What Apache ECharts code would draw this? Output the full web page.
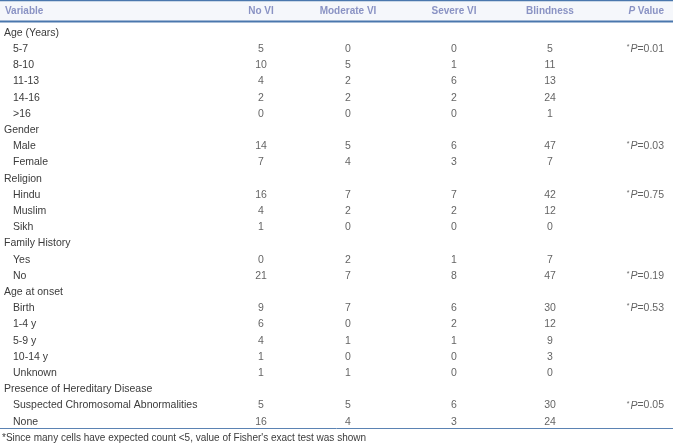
<!DOCTYPE html>
<html>
<head>
<meta charset="utf-8">
<script src="https://cdn.jsdelivr.net/npm/echarts@6/dist/echarts.min.js"></script>
<style>
html, body { margin: 0; padding: 0; background: #fff; }
#main { width: 673px; height: 446px; }
</style>
</head>
<body>
<div id="main"></div>
<script>
// row labels, level 0 = group heading, 1 = sub row
const rowLabels = [
    'Age (Years)', '5-7', '8-10', '11-13', '14-16', '>16',
    'Gender', 'Male', 'Female',
    'Religion', 'Hindu', 'Muslim', 'Sikh',
    'Family History', 'Yes', 'No',
    'Age at onset', 'Birth', '1-4 y', '5-9 y', '10-14 y', 'Unknown',
    'Presence of Hereditary Disease', 'Suspected Chromosomal Abnormalities', 'None'
];
const rowLevel = [0,1,1,1,1,1, 0,1,1, 0,1,1,1, 0,1,1, 0,1,1,1,1,1, 0,1,1];

const noVI       = [null,5,10,4,2,0, null,14,7, null,16,4,1, null,0,21, null,9,6,4,1,1, null,5,16];
const moderateVI = [null,0,5,2,2,0, null,5,4,  null,7,2,0,  null,2,7,  null,7,0,1,0,1, null,5,4];
const severeVI   = [null,0,1,6,2,0, null,6,3,  null,7,2,0,  null,1,8,  null,6,2,1,0,0, null,6,3];
const blindness  = [null,5,11,13,24,1, null,47,7, null,42,12,0, null,7,47, null,30,12,9,3,0, null,30,24];
const pValues    = [null,'0.01',null,null,null,null, null,'0.03',null, null,'0.75',null,null,
                    null,null,'0.19', null,'0.53',null,null,null,null, null,'0.05',null];

const headers = ['Variable', 'No VI', 'Moderate VI', 'Severe VI', 'Blindness', 'P Value'];
const footnote = "*Since many cells have expected count <5, value of Fisher's exact test was shown";

const bodyFont = 'Liberation Sans, Arial, Helvetica, sans-serif';
const bodyColor = '#3b3b3b';
const headColor = '#8a93c4';
const lineColor = '#4a77ad';

// column centres on the x value axis (0..673 = page width)
const colX = [261, 348, 454, 550];
const pX = 664;

function columnSeries(values, x) {
    return {
        type: 'scatter',
        symbolSize: 0,
        silent: true,
        data: values.map((v, i) => v === null ? null : [x, i, v]),
        label: {
            show: true,
            position: 'inside',
            formatter: p => String(p.value[2]),
            color: bodyColor,
            fontSize: 10.5,
            fontFamily: bodyFont
        }
    };
}

const chart = echarts.init(document.getElementById('main'), null, { renderer: 'canvas' });

const series = [noVI, moderateVI, severeVI, blindness].map((vals, k) => columnSeries(vals, colX[k]));
series.push({
    type: 'scatter',
    symbolSize: 0,
    silent: true,
    data: pValues.map((v, i) => v === null ? null : [pX, i, v]),
    label: {
        show: true,
        position: 'inside',
        align: 'right',
        formatter: p => '{s|*}{i|P}{n|=' + p.value[2] + '}',
        rich: {
            s: { fontSize: 7, color: bodyColor, fontFamily: bodyFont, verticalAlign: 'top', padding: [0, 1, 3, 0] },
            i: { fontSize: 10.5, color: bodyColor, fontFamily: bodyFont, fontStyle: 'italic' },
            n: { fontSize: 10.5, color: bodyColor, fontFamily: bodyFont }
        }
    }
});

const headerGraphics = headers.map((h, k) => {
    let x, align;
    if (k === 0) { x = 5; align = 'left'; }
    else if (k === 5) { x = pX; align = 'right'; }
    else { x = colX[k - 1]; align = 'center'; }
    if (k === 5) {
        return {
            type: 'text', x: x, y: 11,
            style: {
                text: '{i|P}{n| Value}',
                align: align, verticalAlign: 'middle',
                rich: {
                    i: { fontSize: 10, fontWeight: 'bold', fontStyle: 'italic', fill: headColor, fontFamily: bodyFont },
                    n: { fontSize: 10, fontWeight: 'bold', fill: headColor, fontFamily: bodyFont }
                }
            }
        };
    }
    return {
        type: 'text', x: x, y: 11,
        style: {
            text: h, align: align, verticalAlign: 'middle',
            fontSize: 10, fontWeight: 'bold', fill: headColor, fontFamily: bodyFont
        }
    };
});

chart.setOption({
    animation: false,
    grid: { left: 0, right: 0, top: 24.9, bottom: 16.1, containLabel: false },
    xAxis: {
        type: 'value', min: 0, max: 673,
        show: false
    },
    yAxis: {
        type: 'category',
        inverse: true,
        data: rowLabels,
        axisLine: { show: false },
        axisTick: { show: false },
        splitLine: { show: false },
        axisLabel: {
            inside: true,
            margin: 4,
            align: 'left',
            formatter: (val, idx) => rowLevel[idx] === 0 ? '{g|' + val + '}' : '{s|' + val + '}',
            rich: {
                g: { fontSize: 10.5, color: bodyColor, fontFamily: bodyFont },
                s: { fontSize: 10.5, color: bodyColor, fontFamily: bodyFont, padding: [0, 0, 0, 9] }
            }
        }
    },
    series: series,
    graphic: [
        { type: 'rect', shape: { x: 0, y: 0, width: 673, height: 21 }, style: { fill: '#f5f7fb' }, z: -10 },
        { type: 'line', shape: { x1: 0, y1: 0.5, x2: 673, y2: 0.5 }, style: { stroke: lineColor, lineWidth: 1.5 } },
        { type: 'line', shape: { x1: 0, y1: 21.5, x2: 673, y2: 21.5 }, style: { stroke: lineColor, lineWidth: 2 } },
        { type: 'line', shape: { x1: 0, y1: 428.5, x2: 673, y2: 428.5 }, style: { stroke: '#5b83b3', lineWidth: 1 } },
        {
            type: 'text', x: 2, y: 438,
            style: { text: footnote, verticalAlign: 'middle', fontSize: 10, fill: bodyColor, fontFamily: bodyFont }
        }
    ].concat(headerGraphics)
});
</script>
</body>
</html>
